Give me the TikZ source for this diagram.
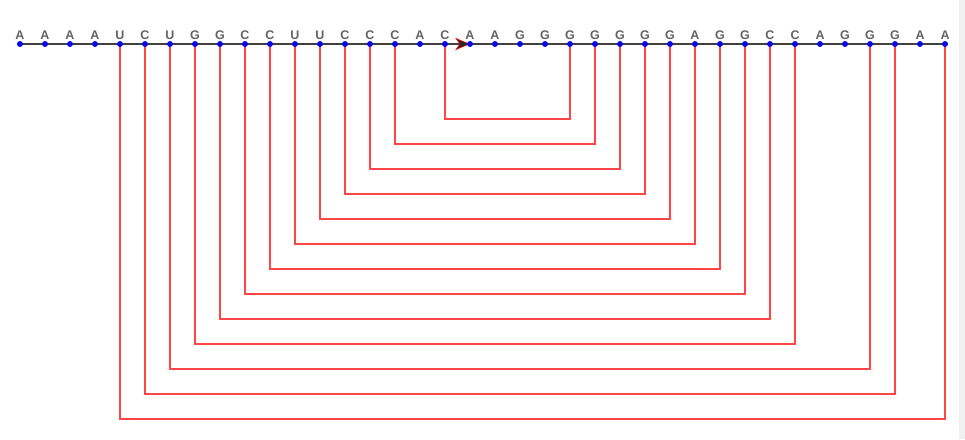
\documentclass[tikz,border=0pt]{standalone}
\usepackage{fontspec}
\setmainfont{Liberation Sans}
\usetikzlibrary{backgrounds}
\definecolor{dotblue}{RGB}{10,10,230}
\definecolor{lettergray}{RGB}{100,100,100}
\definecolor{pairred}{RGB}{255,70,70}
\begin{document}
\begin{tikzpicture}[x=1pt,y=-1pt,
  base/.style={circle,fill=dotblue,inner sep=0pt,minimum size=6pt},
  letter/.style={font=\fontsize{12.5}{12.5}\selectfont\bfseries,text=lettergray,inner sep=0pt,anchor=base},
  pairline/.style={draw=pairred,line width=1.3pt},
  backbone/.style={draw=black!75,line width=1.1pt},
  dirarrow/.style={fill=black!85,draw=red,line width=0.6pt,line join=miter}]
\useasboundingbox (0,0) rectangle (965,439);
\foreach \s [count=\i from 0] in {A,A,A,A,U,C,U,G,G,C,C,U,U,C,C,C,A,C,A,A,G,G,G,G,G,G,G,A,G,G,C,C,A,G,G,G,A,A} {
  \node[base] (b\i) at (20+25*\i,44) {};
  \node[letter] (l\i) at (20+25*\i,39.5) {\s};
}
\begin{scope}[on background layer]
  \fill[white] (0,0) rectangle (965,439);
  \fill[black!6] (959,0) rectangle (965,439);
  \foreach \a/\b/\d in {17/22/75,15/23/100,14/24/125,13/25/150,12/26/175,11/27/200,10/28/225,9/29/250,8/30/275,7/31/300,6/34/325,5/35/350,4/37/375}
    \draw[pairline] (b\a.center) -- ++(0,\d) -| (b\b.center);
  \draw[backbone] (b0.west) -- (b37.center);
  \path[dirarrow] (469,44) coordinate (tip) -- (456,38.5) -- (460,44) -- (456,49.5) -- cycle;
\end{scope}
\end{tikzpicture}
\end{document}
